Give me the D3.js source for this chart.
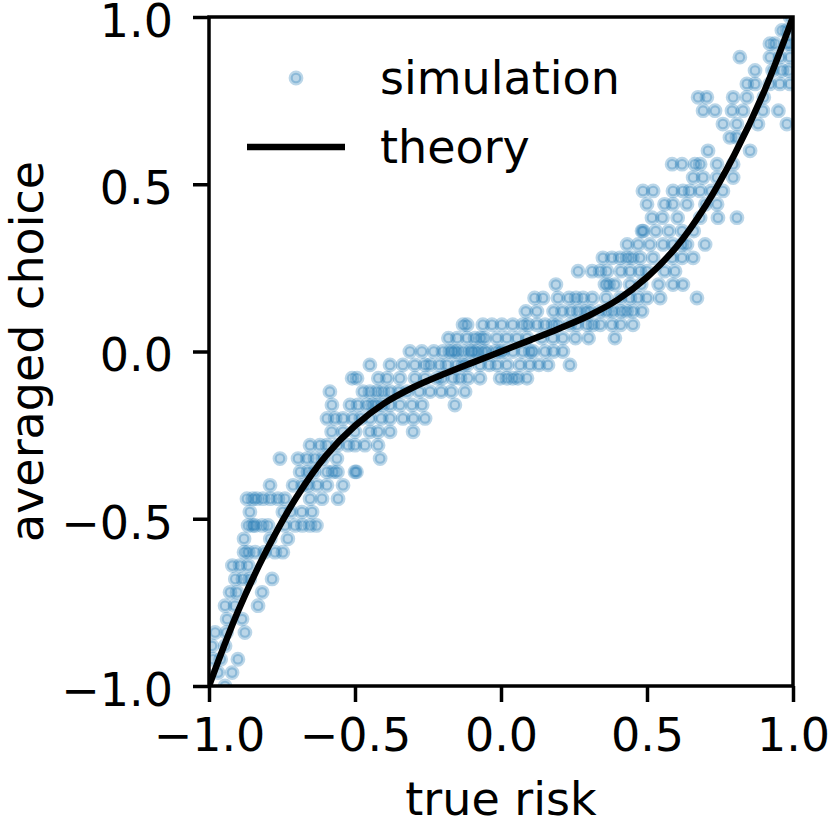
<!DOCTYPE html>
<html>
<head>
<meta charset="utf-8">
<script src="https://cdn.jsdelivr.net/npm/d3@7"></script>
<style>
  body { margin: 0; background: #fff; }
  text { font-family: "DejaVu Sans", sans-serif; }
</style>
</head>
<body>
<div class="box"></div>
<script>

// theory curve
const theoryX = [-1.0, -0.9, -0.8, -0.7, -0.6, -0.5, -0.4, -0.3, -0.2, -0.1, 0, 0.1, 0.2, 0.3, 0.4, 0.5, 0.6, 0.7, 0.8, 0.9, 1.0]
const theoryY = [-1.0, -0.775, -0.59, -0.435, -0.312, -0.222, -0.155, -0.107, -0.069, -0.034, 0,
                 0.034, 0.069, 0.107, 0.155, 0.222, 0.312, 0.435, 0.59, 0.775, 1.0]

// simulation: averaged choice comes in steps of 0.04, true risk values for each level
const simLevels = [-1.00, -0.96, -0.92, -0.88, -0.84, -0.80, -0.76, -0.72, -0.68, -0.64, -0.60, -0.56, -0.52, -0.48, -0.44, -0.40,
                   -0.36, -0.32, -0.28, -0.24, -0.20, -0.16, -0.12, -0.08, -0.04, 0.00, 0.04, 0.08, 0.12, 0.16, 0.20, 0.24,
                   0.28, 0.32, 0.36, 0.40, 0.44, 0.48, 0.52, 0.56, 0.60, 0.64, 0.68, 0.72, 0.76, 0.80, 0.84, 0.88, 0.92, 0.96, 1.00]
const simRisk = [
    [-0.945],
    [-0.969, -0.921],
    [-0.986, -0.960, -0.901],
    [-0.990, -0.945],
    [-0.979, -0.940, -0.877],
    [-0.938, -0.887],
    [-0.945, -0.911, -0.832],
    [-0.928, -0.904, -0.818],
    [-0.910, -0.884, -0.860, -0.784],
    [-0.920, -0.894, -0.866],
    [-0.880, -0.866, -0.842, -0.810, -0.774, -0.747],
    [-0.880, -0.790, -0.730],
    [-0.866, -0.850, -0.842, -0.818, -0.798, -0.740, -0.705, -0.680, -0.654, -0.632],
    [-0.860, -0.747, -0.720, -0.682, -0.647],
    [-0.870, -0.850, -0.836, -0.815, -0.790, -0.764, -0.740, -0.654, -0.613, -0.558],
    [-0.791, -0.712, -0.680, -0.660, -0.630, -0.596, -0.541],
    [-0.688, -0.661, -0.640, -0.596, -0.575, -0.560, -0.500, -0.495],
    [-0.757, -0.695, -0.664, -0.637, -0.610, -0.562, -0.414],
    [-0.654, -0.620, -0.596, -0.560, -0.524, -0.500, -0.466, -0.421],
    [-0.580, -0.541, -0.500, -0.449, -0.421, -0.380, -0.301],
    [-0.596, -0.568, -0.541, -0.507, -0.480, -0.449, -0.410, -0.380, -0.336, -0.300, -0.260],
    [-0.579, -0.517, -0.490, -0.459, -0.440, -0.425, -0.404, -0.380, -0.346, -0.305, -0.270, -0.158],
    [-0.586, -0.473, -0.449, -0.425, -0.404, -0.380, -0.350, -0.322, -0.280, -0.243, -0.205, -0.170, -0.123],
    [-0.510, -0.493, -0.420, -0.390, -0.346, -0.295, -0.260, -0.219, -0.202, -0.164, -0.140, -0.113, -0.072, -0.003, 0.020, 0.041, 0.058, 0.089],
    [-0.449, -0.380, -0.336, -0.295, -0.260, -0.243, -0.210, -0.185, -0.151, -0.130, -0.116, -0.072, -0.040, -0.014, 0.021, 0.065, 0.099, 0.130, 0.161, 0.236],
    [-0.312, -0.271, -0.230, -0.199, -0.175, -0.164, -0.151, -0.130, -0.106, -0.096, -0.082, -0.062, -0.048, -0.020, -0.003, 0.007, 0.041, 0.075, 0.100, 0.110, 0.151, 0.180, 0.212],
    [-0.180, -0.150, -0.116, -0.089, -0.070, -0.055, -0.014, 0.020, 0.055, 0.090, 0.140, 0.178, 0.212, 0.255, 0.300, 0.390],
    [-0.130, -0.116, -0.062, -0.031, 0.003, 0.040, 0.075, 0.092, 0.123, 0.151, 0.178, 0.195, 0.236, 0.260, 0.295, 0.315, 0.340, 0.380, 0.410, 0.452],
    [0.085, 0.123, 0.180, 0.210, 0.240, 0.264, 0.290, 0.305, 0.339, 0.363, 0.384, 0.411, 0.430, 0.452, 0.483],
    [0.115, 0.144, 0.195, 0.233, 0.257, 0.281, 0.313, 0.360, 0.408, 0.442, 0.469, 0.500, 0.545, 0.671],
    [0.188, 0.356, 0.368, 0.390, 0.442, 0.480, 0.540, 0.589, 0.623],
    [0.264, 0.312, 0.339, 0.363, 0.410, 0.442, 0.476, 0.500, 0.560, 0.596],
    [0.349, 0.380, 0.408, 0.432, 0.450, 0.476, 0.521, 0.586, 0.620, 0.658],
    [0.432, 0.470, 0.510, 0.555, 0.589, 0.620, 0.637, 0.699],
    [0.483, 0.487, 0.530, 0.575, 0.620, 0.660],
    [0.517, 0.553, 0.605, 0.682, 0.743, 0.808],
    [0.500, 0.560, 0.589, 0.637, 0.700, 0.740],
    [0.486, 0.521, 0.589, 0.623, 0.647, 0.682, 0.720, 0.760],
    [0.658, 0.692, 0.740, 0.795],
    [0.586, 0.620, 0.664, 0.682, 0.740, 0.795],
    [0.709, 0.853],
    [0.784, 0.808],
    [0.760, 0.808, 0.880, 0.979],
    [0.692, 0.733, 0.791, 0.829, 0.897, 0.950],
    [0.675, 0.705, 0.795, 0.842, 0.900],
    [0.842, 0.870, 0.920, 0.955, 0.990],
    [0.870, 0.930, 0.962, 0.985],
    [0.818, 0.921, 0.955, 0.990],
    [0.921, 0.938, 0.979, 0.990],
    [0.962, 0.979],
    [0.990]
]

const xTicks = [-1.0, -0.5, 0.0, 0.5, 1.0]
const yTicks = [-1.0, -0.5, 0.0, 0.5, 1.0]
const legendLabels = ['simulation', 'theory']

const boxWidth = 830
const boxHeight = 830
const plotLeft = 209, plotRight = 793, plotTop = 17, plotBottom = 686
const blue = '#1f77b4'
const fontSize = '46px'

let simPoints = []
simLevels.forEach((level, i) => {
    simRisk[i].forEach(r => simPoints.push([r, level]))
})
const theory = theoryX.map((v, i) => [v, theoryY[i]])

const svg = d3.select('.box')
              .append('svg')
              .attr('width', boxWidth)
              .attr('height', boxHeight)

const x = d3.scaleLinear().domain([-1, 1]).range([plotLeft, plotRight])
const y = d3.scaleLinear().domain([-1, 1]).range([plotBottom, plotTop])

svg.append('clipPath').attr('id', 'plotclip')
   .append('rect')
   .attr('x', plotLeft).attr('y', plotTop)
   .attr('width', plotRight - plotLeft).attr('height', plotBottom - plotTop)

const plot = svg.append('g').attr('clip-path', 'url(#plotclip)')

function markerStyle(sel) {
    sel.attr('r', 5.3)
       .attr('fill', blue)
       .attr('fill-opacity', 0.3)
       .attr('stroke', blue)
       .attr('stroke-opacity', 0.3)
       .attr('stroke-width', 4.2)
}

plot.selectAll('circle')
    .data(simPoints).enter()
    .append('circle')
    .attr('cx', d => x(d[0]))
    .attr('cy', d => y(d[1]))
    .call(markerStyle)

const line = d3.line()
               .x(d => x(d[0]))
               .y(d => y(d[1]))
               .curve(d3.curveCatmullRom)

plot.append('path')
    .datum(theory)
    .attr('d', line)
    .attr('fill', 'none')
    .attr('stroke', '#000')
    .attr('stroke-width', 6.5)

// axes
const fmt = d3.format('.1f')

const xAxis = svg.append('g')
                 .attr('transform', `translate(0, ${plotBottom})`)
                 .call(d3.axisBottom(x).tickValues(xTicks).tickSize(16).tickPadding(16).tickFormat(fmt))
const yAxis = svg.append('g')
                 .attr('transform', `translate(${plotLeft}, 0)`)
                 .call(d3.axisLeft(y).tickValues(yTicks).tickSize(16).tickPadding(20).tickFormat(fmt))

;[xAxis, yAxis].forEach(g => {
    g.select('.domain').remove()
    g.selectAll('.tick line').attr('stroke', '#000').attr('stroke-width', 3.5)
    g.selectAll('.tick text')
     .attr('fill', '#000')
     .style('font-family', '"DejaVu Sans", sans-serif')
     .style('font-size', fontSize)
})
yAxis.selectAll('.tick text').attr('dy', '0.42em')

// spines
svg.append('rect')
   .attr('x', plotLeft).attr('y', plotTop)
   .attr('width', plotRight - plotLeft).attr('height', plotBottom - plotTop)
   .attr('fill', 'none')
   .attr('stroke', '#000')
   .attr('stroke-width', 3.5)

svg.append('text')
   .attr('x', (plotLeft + plotRight) / 2)
   .attr('y', 815)
   .attr('text-anchor', 'middle')
   .style('font-size', fontSize)
   .text('true risk')

svg.append('text')
   .attr('transform', `translate(43, ${(plotTop + plotBottom) / 2}) rotate(-90)`)
   .attr('text-anchor', 'middle')
   .style('font-size', fontSize)
   .text('averaged choice')

// legend
const legend = svg.append('g')
legend.append('circle')
      .attr('cx', 296).attr('cy', 78)
      .call(markerStyle)
legend.append('line')
      .attr('x1', 247).attr('x2', 345)
      .attr('y1', 147).attr('y2', 147)
      .attr('stroke', '#000').attr('stroke-width', 6.5)
legend.selectAll('text')
      .data(legendLabels).enter()
      .append('text')
      .attr('x', 380)
      .attr('y', (d, i) => 94 + i * 69)
      .style('font-size', fontSize)
      .text(d => d)

</script>
</body>
</html>
